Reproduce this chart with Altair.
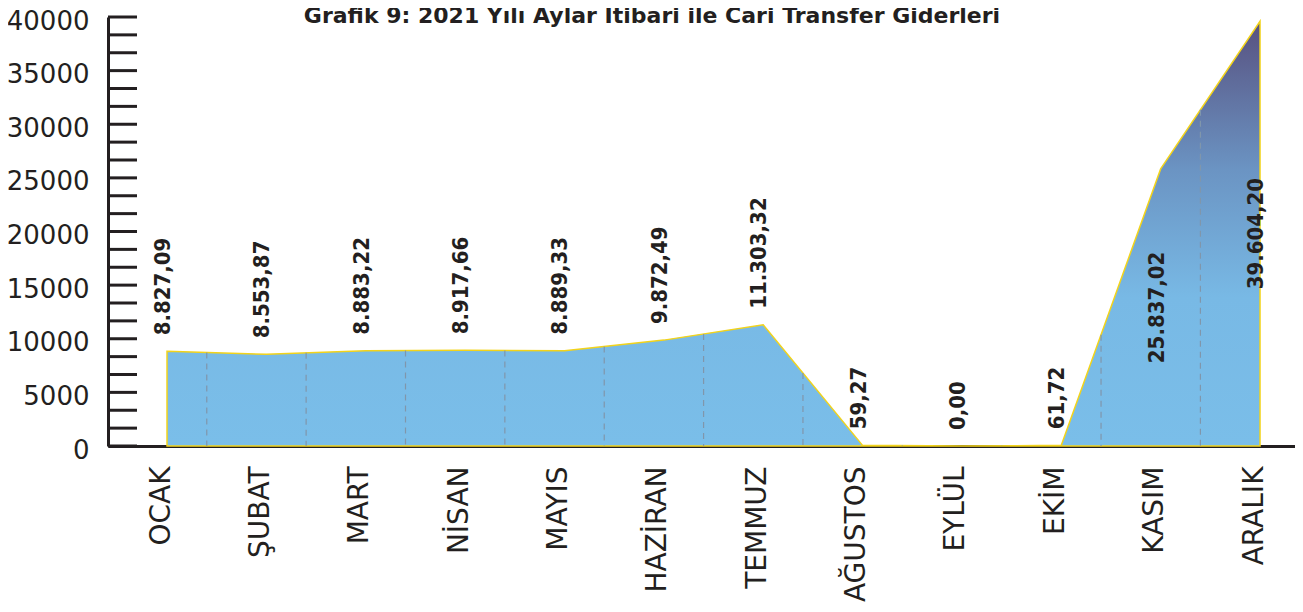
import altair as alt
import pandas as pd

# ---- data ----
months = ["OCAK", "ŞUBAT", "MART", "NİSAN", "MAYIS", "HAZİRAN",
          "TEMMUZ", "AĞUSTOS", "EYLÜL", "EKİM", "KASIM", "ARALIK"]
values = [8827.09, 8553.87, 8883.22, 8917.66, 8889.33, 9872.49,
          11303.32, 59.27, 0.00, 61.72, 25837.02, 39604.20]
y_label_values = [0, 5000, 10000, 15000, 20000, 25000, 30000, 35000, 40000]
title_text = "Grafik 9: 2021 Yılı Aylar İtibari ile Cari Transfer Giderleri"


def tr_format(v):
    s = f"{v:,.2f}"
    return s.replace(",", "#").replace(".", ",").replace("#", ".")


df = pd.DataFrame({
    "i": list(range(len(months))),
    "month": months,
    "value": values,
    "label": [tr_format(v) for v in values],
})

# dashed guide lines between months, drawn up to the area's edge
frac = 0.4
guides = pd.DataFrame({
    "i": [k + frac for k in range(len(values) - 1)],
    "value": [values[k] + frac * (values[k + 1] - values[k]) for k in range(len(values) - 1)],
})

# minor ticks on the y axis (three per labelled step)
ticks = pd.DataFrame({"value": [k * 5000 / 3 for k in range(25)]})

INK = "#231F20"
FONT = "DejaVu Sans"

xscale = alt.Scale(domain=[-0.594, 11.352], nice=False, zero=False)
yscale = alt.Scale(domain=[0, 40000], nice=False, zero=True)

label_expr = "[" + ",".join(f"'{m}'" for m in months) + "][datum.value]"

x_axis = alt.Axis(
    values=list(range(len(months))), labelExpr=label_expr,
    labelAngle=270, labelAlign="right", labelBaseline="middle",
    labelPadding=20, labelOffset=-6, labelFontSize=28, labelFont=FONT,
    labelColor=INK, labelOverlap=False, labelFlush=False,
    ticks=False, grid=False, domain=True, domainWidth=3, domainColor=INK,
    title=None)
y_axis = alt.Axis(
    values=y_label_values, format="d", labelPadding=19, labelOffset=4,
    labelFontSize=26, labelFont=FONT, labelColor=INK, labelFlush=False,
    labelOverlap=False, ticks=False, grid=False, domain=True,
    domainWidth=3, domainColor=INK, title=None)

X = alt.X("i:Q", scale=xscale, axis=x_axis)
Y = alt.Y("value:Q", scale=yscale, axis=y_axis)

gradient = alt.Gradient(
    gradient="linear",
    stops=[
        alt.GradientStop(color="#7ABEE9", offset=0),
        alt.GradientStop(color="#78B9E5", offset=0.35),
        alt.GradientStop(color="#6B94C3", offset=0.65),
        alt.GradientStop(color="#57507F", offset=1),
    ],
    x1=0, x2=0, y1=1, y2=0,
)

area = alt.Chart(df).mark_area(
    color=gradient, stroke="#F2D31B", strokeWidth=1.5, interpolate="linear"
).encode(x=X, y=Y)

guide_rules = alt.Chart(guides).mark_rule(
    color="#8096AB", strokeDash=[6, 5], strokeWidth=1.2
).encode(x=X, y=Y, y2=alt.datum(0))

tick_rules = alt.Chart(ticks).mark_rule(color=INK, strokeWidth=3).encode(
    y=Y, x=alt.value(0), x2=alt.value(29),
)

small_labels = alt.Chart(df).transform_filter("datum.value < 20000").mark_text(
    angle=270, align="left", baseline="middle", dx=16, dy=-4,
    font="DejaVu Sans Condensed", fontSize=22, fontWeight="bold", color=INK
).encode(x=X, y=Y, text="label:N")

big_labels = alt.Chart(df).transform_filter("datum.value >= 20000").transform_calculate(
    mid="datum.value / 2"
).mark_text(
    angle=270, align="center", baseline="middle", dy=-4,
    font="DejaVu Sans Condensed", fontSize=22, fontWeight="bold", color=INK
).encode(
    x=X,
    y=alt.Y("mid:Q", scale=yscale, axis=y_axis),
    text="label:N",
)

title = alt.Chart(pd.DataFrame({"t": [title_text]})).mark_text(
    align="center", baseline="alphabetic", fontSize=22, font=FONT,
    fontWeight="bold", color=INK
).encode(text="t:N", x=alt.value(544), y=alt.value(6))

chart = alt.layer(area, guide_rules, tick_rules, small_labels, big_labels, title).properties(
    width=1187,
    height=429,
    background="white",
    autosize=alt.AutoSizeParams(type="none"),
    padding={"left": 100, "top": 9, "right": 0, "bottom": 166},
).configure_view(stroke=None)

chart.save("out.html", embed_options={"renderer": "svg", "actions": False})
